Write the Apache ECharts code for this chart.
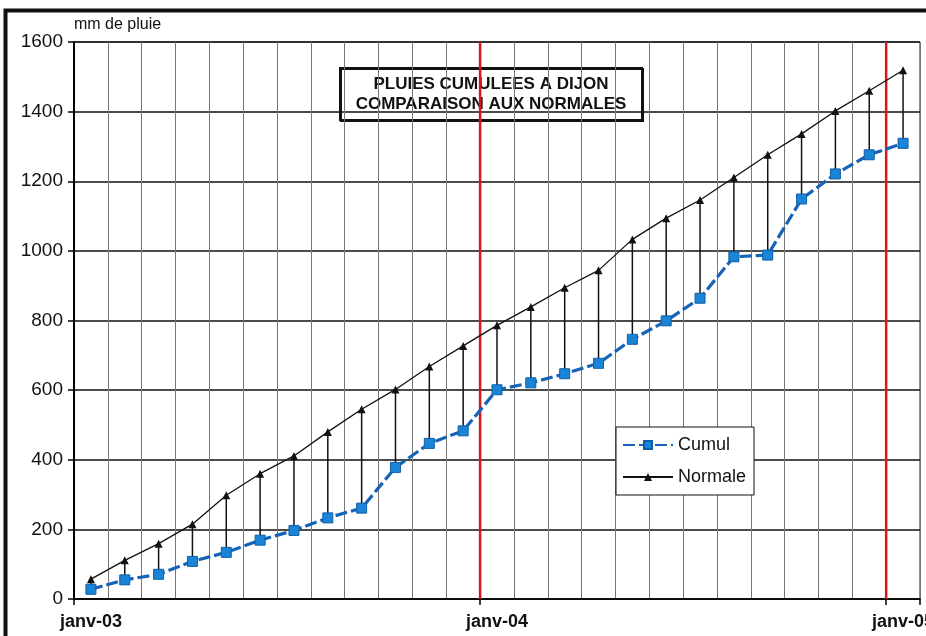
<!DOCTYPE html>
<html>
<head>
<meta charset="utf-8">
<script src="https://cdn.jsdelivr.net/npm/echarts@6/dist/echarts.min.js"></script>
<style>
html,body{margin:0;padding:0;background:#fff;}
#chart{width:926px;height:636px;}
</style>
</head>
<body>
<div id="chart"></div>
<script>
var months = ['janv-03','févr-03','mars-03','avr-03','mai-03','juin-03','juil-03','août-03','sept-03','oct-03','nov-03','déc-03',
              'janv-04','févr-04','mars-04','avr-04','mai-04','juin-04','juil-04','août-04','sept-04','oct-04','nov-04','déc-04',
              'janv-05'];
var cumul = [28, 55, 71, 108, 134, 169, 197, 233, 261, 378, 447, 483,
             601, 621, 647, 677, 746, 799, 864, 983, 988, 1149, 1221, 1276, 1309];
var normale = [57, 111, 159, 215, 298, 360, 411, 480, 545, 602, 668, 727,
               786, 839, 894, 944, 1033, 1094, 1146, 1211, 1276, 1336, 1402, 1460, 1519];
var yearBoundaries = [12, 24];
var titleLines = ['PLUIES CUMULEES A DIJON', 'COMPARAISON AUX NORMALES'];
var yName = 'mm de pluie';

var drops = months.map(function (m, i) { return [i, cumul[i], normale[i]]; });
var redLines = yearBoundaries.map(function (b) { return [b]; });

var chart = echarts.init(document.getElementById('chart'));
chart.setOption({
  animation: false,
  backgroundColor: '#fff',
  textStyle: { fontFamily: 'Liberation Sans, Arial, sans-serif' },
  grid: { left: 74, right: 6, top: 42, bottom: 37, show: true, borderColor: '#222', borderWidth: 1,
          containLabel: false, outerBoundsMode: 'none' },
  xAxis: [{
    type: 'category',
    data: months,
    boundaryGap: true,
    axisLine: { show: true, lineStyle: { color: '#000', width: 1.5 } },
    axisTick: { show: true, interval: 11, length: 6, lineStyle: { color: '#000', width: 1.5 } },
    axisLabel: { interval: 11, fontSize: 18, fontWeight: 'bold', color: '#111', margin: 14, hideOverlap: false },
    splitLine: { show: true, interval: 0, lineStyle: { color: '#777', width: 1 } }
  }, {
    type: 'value', min: 0, max: 25, show: false,
    axisLine: { show: false }, splitLine: { show: false }
  }],
  yAxis: {
    type: 'value',
    min: 0, max: 1600, interval: 200,
    name: yName,
    nameLocation: 'end',
    nameGap: 9,
    nameTextStyle: { fontSize: 16, color: '#111', align: 'left', verticalAlign: 'bottom' },
    axisLine: { show: true, lineStyle: { color: '#000', width: 2 } },
    axisTick: { show: true, length: 6, lineStyle: { color: '#000', width: 1.5 } },
    axisLabel: { fontSize: 19, color: '#111', margin: 11, formatter: function (v) { return String(v); } },
    splitLine: { show: true, lineStyle: { color: '#111', width: 1.6 } }
  },
  legend: {
    orient: 'vertical',
    left: 616, top: 427,
    width: 141,
    backgroundColor: '#fff',
    borderColor: '#111', borderWidth: 1,
    padding: [9, 8, 9, 6],
    itemWidth: 50, itemHeight: 10, itemGap: 14,
    textStyle: { fontSize: 18, color: '#111' },
    data: ['Cumul', 'Normale']
  },
  graphic: [
    {
      type: 'rect', silent: true, z: 100,
      shape: { x: 5.5, y: 10.5, width: 960, height: 660 },
      style: { fill: 'none', stroke: '#111', lineWidth: 4 }
    },
    {
      type: 'group', z: 100, left: 339, top: 67,
      children: [
        {
          type: 'rect',
          shape: { x: 0, y: 0, width: 302, height: 52 },
          style: { fill: '#fff', stroke: '#111', lineWidth: 2, shadowColor: '#111', shadowOffsetX: 1, shadowOffsetY: 1, shadowBlur: 0 }
        },
        {
          type: 'text',
          x: 151, y: 26,
          style: {
            text: titleLines.join('\n'),
            align: 'center', verticalAlign: 'middle',
            font: 'bold 17px "Liberation Sans", Arial, sans-serif',
            lineHeight: 20,
            fill: '#111'
          }
        }
      ]
    }
  ],
  series: [
    {
      name: 'redlines',
      type: 'custom',
      xAxisIndex: 1, yAxisIndex: 0,
      silent: true, z: 1,
      data: redLines,
      encode: { x: 0 },
      renderItem: function (params, api) {
        var v = api.value(0);
        var p1 = api.coord([v, 0]);
        var p2 = api.coord([v, 1600]);
        return { type: 'line', shape: { x1: p1[0], y1: p1[1], x2: p2[0], y2: p2[1] },
                 style: { stroke: '#d8171c', lineWidth: 2.5 } };
      }
    },
    {
      name: 'drops',
      type: 'custom',
      xAxisIndex: 0, yAxisIndex: 0,
      silent: true, z: 2,
      data: drops,
      encode: { x: 0, y: [1, 2] },
      renderItem: function (params, api) {
        var p1 = api.coord([api.value(0), api.value(1)]);
        var p2 = api.coord([api.value(0), api.value(2)]);
        return { type: 'line', shape: { x1: p1[0], y1: p1[1], x2: p2[0], y2: p2[1] },
                 style: { stroke: '#111', lineWidth: 1.5 } };
      }
    },
    {
      name: 'Normale',
      type: 'line',
      data: normale,
      z: 3,
      symbol: 'triangle', symbolSize: 8,
      itemStyle: { color: '#111' },
      lineStyle: { color: '#111', width: 1.3 }
    },
    {
      name: 'Cumul',
      type: 'line',
      data: cumul,
      z: 4,
      symbol: 'rect', symbolSize: 10,
      itemStyle: { color: '#1a84d6', borderColor: '#0f5ea8', borderWidth: 1 },
      lineStyle: { color: '#1664b8', width: 3.2, type: [12, 4] }
    }
  ]
});
</script>
</body>
</html>
